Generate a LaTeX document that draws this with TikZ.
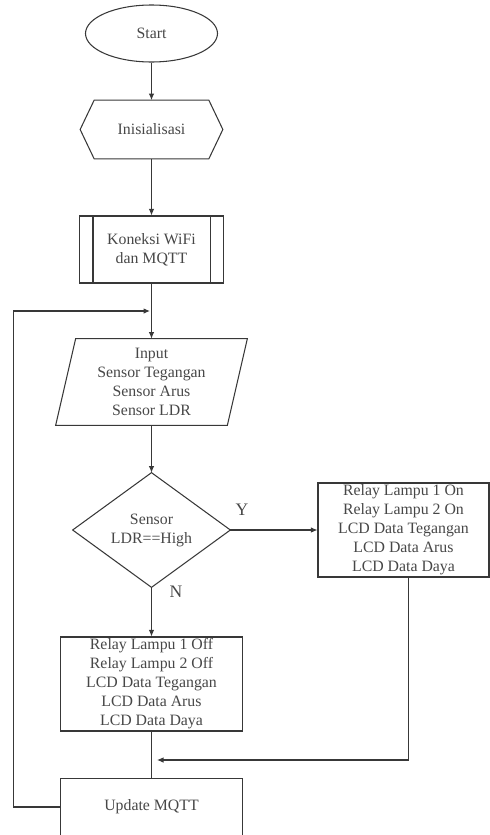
\documentclass[tikz,border=0pt]{standalone}
\usepackage{fontspec}
\setmainfont{Liberation Serif}
\usetikzlibrary{shapes.geometric,arrows.meta,calc}
\begin{document}
\begin{tikzpicture}[x=0.02cm,y=-0.02cm,
  every node/.style={font=\fontsize{9}{10.8}\selectfont, text=black!72, align=center, inner sep=0pt},
  ln/.style={draw=black!78, line width=0.6pt},
  arr/.style={ln, -{Latex[length=1.3mm,width=1.1mm]}},
  sz/.style 2 args={minimum width=#1*0.02cm, minimum height=#2*0.02cm},
  lbl/.style={font=\fontsize{10}{12}\selectfont}
]
\useasboundingbox (0,0) rectangle (490,835);

% nodes
\node[ellipse, ln, sz={132}{57}] (start) at (151.5,33.5) {Start};
\node[sz={142}{58}] (init) at (151.5,129.5) {Inisialisasi};
\draw[ln] ($(init.north west)+(14,0)$) -- ($(init.north east)+(-14,0)$) -- (init.east)
  -- ($(init.south east)+(-14,0)$) -- ($(init.south west)+(14,0)$) -- (init.west) -- cycle;

\node[ln, sz={144}{67}] (wifi) at (151.5,249.5) {Koneksi WiFi\\dan MQTT};
\draw[ln] ($(wifi.north west)+(14,0)$) -- ($(wifi.south west)+(14,0)$)
          ($(wifi.north east)+(-14,0)$) -- ($(wifi.south east)+(-14,0)$);

\node[sz={191}{86}] (input) at (151.5,382) {Input\\Sensor Tegangan\\Sensor Arus\\Sensor LDR};
\draw[ln] ($(input.north west)+(20,0)$) -- (input.north east)
  -- ($(input.south east)+(-20,0)$) -- (input.south west) -- cycle;

\node[sz={157}{114}] (dec) at (151.5,530) {Sensor\\LDR==High};
\draw[ln] (dec.north) -- (dec.east) -- (dec.south) -- (dec.west) -- cycle;

\node[ln, sz={171}{94}] (on) at (403.5,530)
  {Relay Lampu 1 On\\Relay Lampu 2 On\\LCD Data Tegangan\\LCD Data Arus\\LCD Data Daya};

\node[ln, sz={182}{94}] (off) at (151.5,684)
  {Relay Lampu 1 Off\\Relay Lampu 2 Off\\LCD Data Tegangan\\LCD Data Arus\\LCD Data Daya};

\node[sz={182}{56}] (upd) at (151.5,807) {Update MQTT};
\draw[ln] (upd.south west) |- (upd.north east) -- (upd.south east);

\node[lbl] (ylab) at (242,510) {Y};
\node[lbl] (nlab) at (176,592) {N};

% connectors
\coordinate (j1) at (150,311);
\coordinate (j2) at (157,760);
\draw[arr] (start.south) -- (init.north);
\draw[arr] (init.south) -- (wifi.north);
\draw[arr] (wifi.south) -- (input.north);
\draw[arr] (input.south) -- (dec.north);
\draw[arr] (dec.east) -- (on.west);
\draw[arr] (dec.south) -- (off.north);
\draw[ln] (off.south) -- (upd.north);
\draw[arr] ($(on.south)+(5,0)$) |- (j2);
\draw[arr] (upd.west) -- ++(-47,0) |- (j1);
\end{tikzpicture}
\end{document}
